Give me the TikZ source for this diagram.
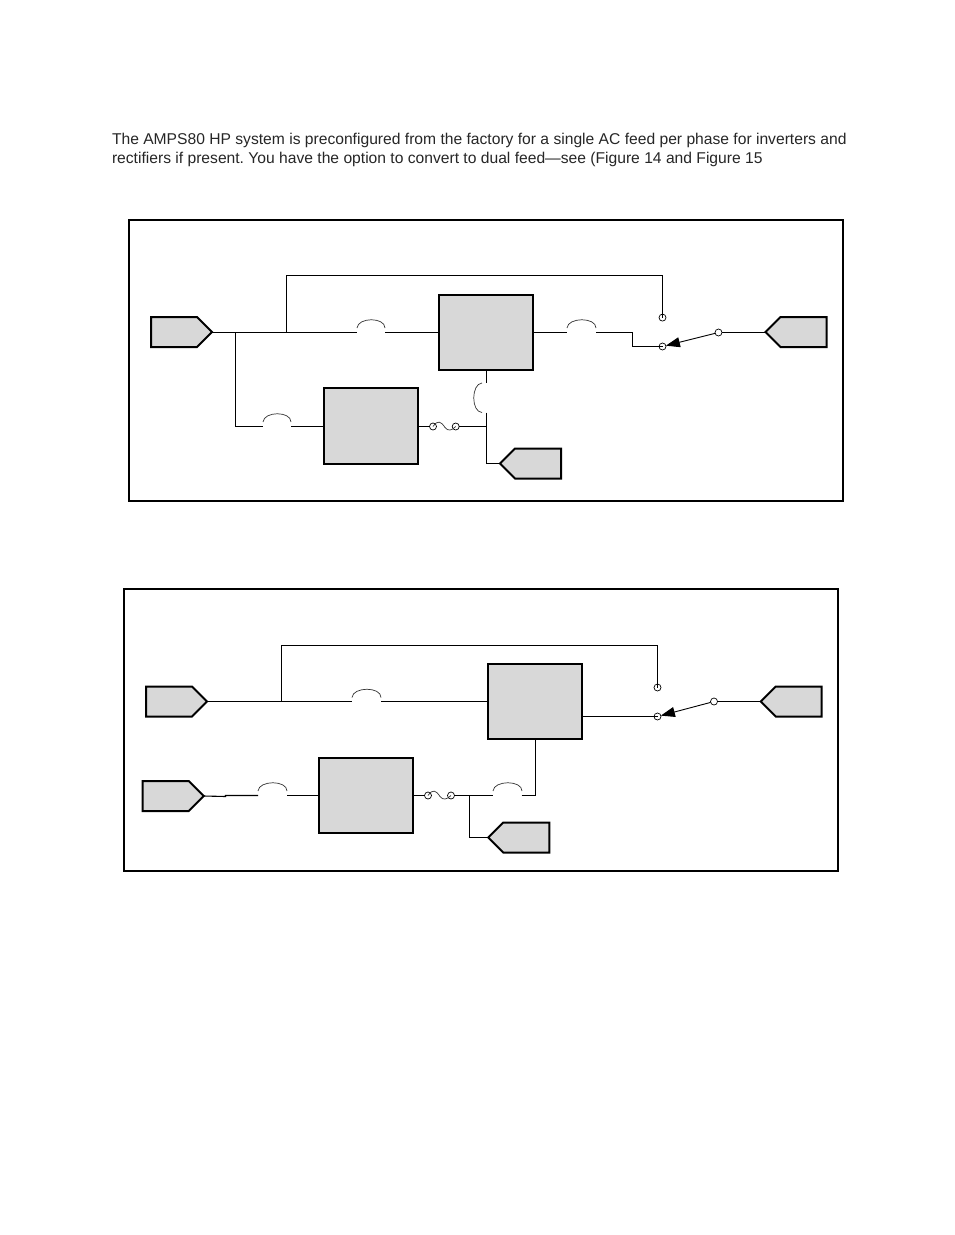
\documentclass[tikz,border=0pt]{standalone}
\usepackage{fontspec}
\setmainfont{Liberation Sans}
\usetikzlibrary{shapes.symbols,arrows.meta}
\definecolor{boxgray}{HTML}{D8D8D8}
\tikzset{
  x=1pt,y=-1pt,
  wire/.style={line width=1.1pt,line join=miter},
  thinarc/.style={line width=0.7pt,draw=black!80},
  frm/.style={draw,line width=2pt,inner sep=0pt,outer sep=0pt,anchor=north west},
  block/.style={draw,fill=boxgray,line width=2pt,inner sep=0pt,outer sep=0pt,minimum width=94pt,minimum height=75pt,anchor=north west},
  pin/.style={draw,fill=boxgray,line width=2pt,shape=signal,signal pointer angle=90,inner sep=0pt,outer sep=0pt,minimum width=61pt,minimum height=30pt},
  pinr/.style={pin,signal to=east,anchor=east},
  pinl/.style={pin,signal to=west,anchor=west},
  term/.style={draw,circle,line width=0.7pt,inner sep=0pt,outer sep=0pt,minimum size=7pt},
  para/.style={anchor=base west,inner sep=0pt,outer sep=0pt,text=black!85,font=\fontsize{15.64pt}{19pt}\selectfont\frenchspacing}
}
\begin{document}
\begin{tikzpicture}
\useasboundingbox (0,0) rectangle (954,1235);
\node[para] (t1) at (112,144) {The AMPS80 HP system is preconfigured from the factory for a single AC feed per phase for inverters and};
\node[para] (t2) at (112,163) {rectifiers if present. You have the option to convert to dual feed—see (Figure 14 and Figure 15};

% ---- first figure
\node[frm,minimum width=714pt,minimum height=281.5pt] (fa) at (129,219.5) {};
\node[block] (a1) at (439,295) {};
\node[block,minimum height=76pt] (a2) at (324,388) {};
\node[pinr] (ain) at (212,332) {};
\node[pinl] (aout) at (765.5,332) {};
\node[pinl] (adc) at (500,463.5) {};
\node[term] (as1) at (662.5,317.6) {};
\node[term] (as2) at (662.5,346.5) {};
\node[term] (as3) at (718.5,332.5) {};
\node[term] (af1) at (433,426.5) {};
\node[term] (af2) at (455.7,426.5) {};
\coordinate (aj1) at (235.5,332.5);
\coordinate (aj2) at (286.5,332.5);
\coordinate (aj3) at (486.5,426.5);
\coordinate (ab1l) at (357,332.5);
\coordinate (ab1r) at (385,332.5);
\coordinate (ab2l) at (263,426.5);
\coordinate (ab2r) at (291,426.5);
\coordinate (ab3l) at (567,332.5);
\coordinate (ab3r) at (596,332.5);
\coordinate (ab4t) at (486.5,383);
\coordinate (ab4b) at (486.5,412.5);
\draw[wire] (ain.east |- ab1l) -- (ab1l);
\draw[wire] (ab1r) -- (a1.west |- ab1r);
\draw[wire] (aj2) -- (286.5,275.5) -- (662.5,275.5) -- (as1.center);
\draw[wire] (aj1) -- (235.5,426.5) -- (ab2l);
\draw[wire] (ab2r) -- (a2.west |- ab2r);
\draw[wire] (a2.east |- af1) -- (af1);
\draw[wire] (af2) -- (aj3);
\draw[wire] (a1.south -| ab4t) -- (ab4t);
\draw[wire] (ab4b) -- (486.5,463.5) -- (adc.west);
\draw[wire] (a1.east |- ab3l) -- (ab3l);
\draw[wire] (ab3r) -- (632.5,332.5) -- (632.5,346.5) -- (as2.center);
\draw[wire] (as3) -- (aout.west |- as3);
\draw[line width=0.9pt,-{Triangle[length=14pt,width=10pt]}] (as3) -- (as2);
\draw[thinarc] (357,328) .. controls (358,317) and (385,317) .. (385,328);
\draw[thinarc] (263,422) .. controls (264,411) and (291,411) .. (291,422);
\draw[thinarc] (567,328) .. controls (568,317) and (596,317) .. (596,328);
\draw[thinarc] (482,383) .. controls (471,384) and (471,412) .. (482,412.5);
\draw[thinarc] (af1.center) .. controls (438,419.5) and (441,421.5) .. (445,427.5) .. controls (448,431.5) and (452,430.5) .. (af2.center);

% ---- second figure
\node[frm,minimum width=714pt,minimum height=282pt] (fb) at (124,589) {};
\node[block] (b1) at (488,664) {};
\node[block] (b2) at (319,758) {};
\node[pinr] (bin1) at (207,701.5) {};
\node[pinr] (bin2) at (203.7,796) {};
\node[pinl] (bout) at (760.7,701.5) {};
\node[pinl] (bdc) at (488.3,837.5) {};
\node[term] (bs1) at (657.5,687.5) {};
\node[term] (bs2) at (657.5,716.5) {};
\node[term] (bs3) at (714,701.5) {};
\node[term] (bf1) at (428,795.5) {};
\node[term] (bf2) at (451,795.5) {};
\coordinate (bj1) at (281.5,701.5);
\coordinate (bj2) at (469.5,795.5);
\coordinate (bb1l) at (352,701.5);
\coordinate (bb1r) at (381,701.5);
\coordinate (bb2l) at (258,795.5);
\coordinate (bb2r) at (287,795.5);
\coordinate (bb3l) at (493,795.5);
\coordinate (bb3r) at (521.7,795.5);
\draw[wire] (bin1.east) -- (bb1l);
\draw[wire] (bb1r) -- (b1.west |- bb1r);
\draw[wire] (bj1) -- (281.5,645.5) -- (657.5,645.5) -- (bs1.center);
\draw[wire] (b1.east |- bs2) -- (bs2.center);
\draw[wire] (bs3) -- (bout.west);
\draw[line width=0.9pt,-{Triangle[length=14pt,width=10pt]}] (bs3) -- (bs2);
\draw[wire] (bin2.east) -- (225.5,796.5) -- (225.5,795.5) -- (bb2l);
\draw[wire] (bb2r) -- (b2.west |- bb2r);
\draw[wire] (b2.east |- bf1) -- (bf1);
\draw[wire] (bf2) -- (bb3l);
\draw[wire] (bb3r) -- (535.5,795.5) -- (b1.south -| 535.5,795.5);
\draw[wire] (bj2) -- (469.5,837.5) -- (bdc.west);
\draw[thinarc] (352,697.5) .. controls (353,686.5) and (381,686.5) .. (381,697.5);
\draw[thinarc] (258,791) .. controls (259,780) and (287,780) .. (287,791);
\draw[thinarc] (493,791) .. controls (494,780) and (522,780) .. (522,791);
\draw[thinarc] (bf1.center) .. controls (433,788.5) and (436,790.5) .. (440,796.5) .. controls (443,800.5) and (447,799.5) .. (bf2.center);
\end{tikzpicture}
\end{document}
